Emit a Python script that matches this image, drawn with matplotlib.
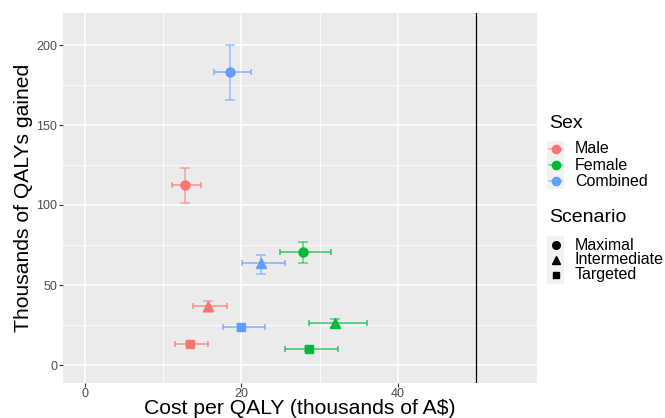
import numpy as np
import matplotlib
matplotlib.use('Agg')
import matplotlib.pyplot as plt
from matplotlib.lines import Line2D
from matplotlib.patches import Rectangle

plt.rcParams['font.family'] = ['Liberation Sans', 'DejaVu Sans']

# data (rows: sex, columns: scenario)
sexes = ['Male', 'Female', 'Combined']
scenarios = ['Maximal', 'Intermediate', 'Targeted']
cost    = [[12.8, 15.75, 13.45], [27.9, 32.0, 28.6], [18.6, 22.5, 20.0]]
cost_lo = [[11.1, 13.8, 11.6], [25.0, 28.7, 25.55], [16.5, 20.1, 17.7]]
cost_hi = [[14.9, 18.2, 15.8], [31.5, 36.0, 32.4], [21.3, 25.6, 23.0]]
qaly    = [[112.5, 36.9, 13.3], [70.4, 26.5, 10.2], [183.0, 63.5, 23.75]]
qaly_lo = [[101.4, 33.1, 12.0], [63.8, 23.75, 9.0], [165.6, 57.1, 22.0]]
qaly_hi = [[123.0, 40.0, 14.6], [77.1, 28.5, 11.5], [200.2, 68.75, 25.5]]
threshold = 50
xticks = [0, 20, 40]
yticks = [0, 50, 100, 150, 200]

colors = ['#F8766D', '#00BA38', '#619CFF']
markers = ['o', '^', 's']
msize = {'o': 6.5, '^': 7, 's': 6}

W, H = 665, 418
def fx(x): return x / W
def fy(y): return 1 - y / H

fig = plt.figure(figsize=(W / 100, H / 100), dpi=100)
fig.patch.set_facecolor('white')
ax = fig.add_axes([fx(63), fy(383), (537 - 63) / W, (383 - 13) / H])
ax.set_facecolor('#EBEBEB')
for s in ax.spines.values():
    s.set_visible(False)

ax.set_xlim(-2.75, 57.75)
ax.set_ylim(-11.25, 220)
ax.set_xticks(xticks)
ax.set_yticks(yticks)
ax.set_xticks([10, 30, 50], minor=True)
ax.set_yticks([25, 75, 125, 175], minor=True)
ax.grid(which='major', color='white', lw=1.1)
ax.grid(which='minor', color='white', lw=0.55)
ax.set_axisbelow(True)
ax.tick_params(which='major', length=2.75, width=0.8, color='#333333',
               labelsize=9, labelcolor='#4D4D4D', pad=1.5)
ax.tick_params(axis='x', which='major', pad=0.6)
ax.tick_params(which='minor', length=0)

ax.axvline(threshold, color='black', lw=0.9)

for i, sx in enumerate(sexes):
    for j, sc in enumerate(scenarios):
        x, y = cost[i][j], qaly[i][j]
        ax.errorbar([x], [y], yerr=[[y - qaly_lo[i][j]], [qaly_hi[i][j] - y]],
                    fmt='none', ecolor=colors[i], alpha=0.6, elinewidth=1.1,
                    capsize=3.3, capthick=1.1)
        ax.errorbar([x], [y], xerr=[[x - cost_lo[i][j]], [cost_hi[i][j] - x]],
                    fmt='none', ecolor=colors[i], alpha=0.75, elinewidth=1.1,
                    capsize=2.2, capthick=1.1)
        ax.plot([x], [y], marker=markers[j], ms=msize[markers[j]],
                color=colors[i], mec=colors[i], ls='none', zorder=5)

fig.text(fx(300), fy(409), 'Cost per QALY (thousands of A$)', ha='center',
         va='center', fontsize=15.2)
fig.text(fx(24), fy(198), 'Thousands of QALYs gained', ha='center',
         va='center', rotation=90, fontsize=15.2)

# legends drawn by hand
kx = 555.5
fig.text(fx(549), fy(124), 'Sex', ha='left', va='center', fontsize=14)
fig.add_artist(Rectangle((fx(547), fy(189)), 17 / W, 48 / H,
                         transform=fig.transFigure, color='#F2F2F2', lw=0))
for i, sx in enumerate(sexes):
    ky = 149 + 16 * i
    fig.add_artist(Line2D([fx(kx - 6.5), fx(kx + 6.5)], [fy(ky), fy(ky)],
                          transform=fig.transFigure, color=colors[i],
                          alpha=0.6, lw=1.1))
    fig.add_artist(Line2D([fx(kx)], [fy(ky)], transform=fig.transFigure,
                          marker='o', ms=6, color=colors[i], ls='none'))
    fig.text(fx(575), fy(ky), sx, ha='left', va='center', fontsize=11.5)

fig.text(fx(549), fy(218), 'Scenario', ha='left', va='center', fontsize=14)
fig.add_artist(Rectangle((fx(547), fy(284)), 17 / W, 48 / H,
                         transform=fig.transFigure, color='#F2F2F2', lw=0))
for j, sc in enumerate(scenarios):
    ky = 245 + 15 * j
    fig.add_artist(Line2D([fx(kx)], [fy(ky)], transform=fig.transFigure,
                          marker=markers[j], ms=msize[markers[j]] - 1,
                          color='black', ls='none'))
    fig.text(fx(575), fy(ky), sc, ha='left', va='center', fontsize=11.5)

plt.savefig('out.png', dpi=100)
